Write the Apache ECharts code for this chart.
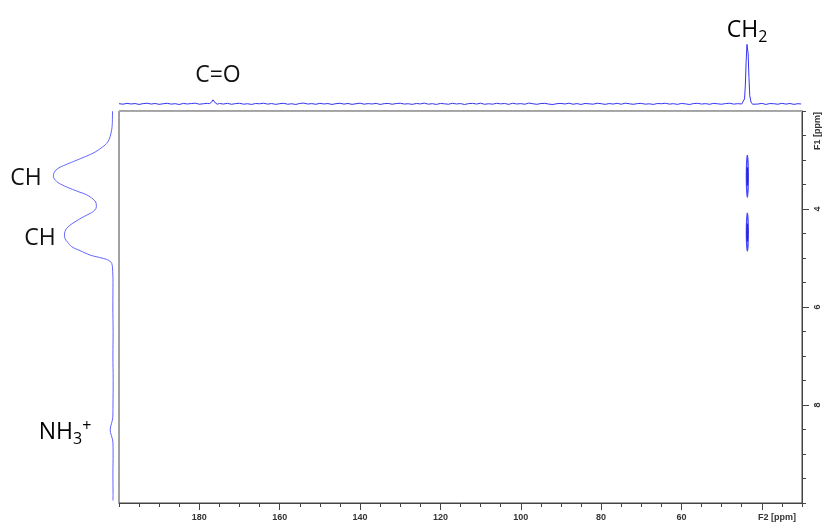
<!DOCTYPE html>
<html>
<head>
<meta charset="utf-8">
<script src="https://cdn.jsdelivr.net/npm/echarts@6/dist/echarts.min.js"></script>
<style>
  html, body { margin: 0; padding: 0; background: #fff; }
  #chart { width: 823px; height: 525px; }
</style>
</head>
<body>
<div id="chart"></div>
<script>
// F2 (13C) projection on top: [ppm, intensity]
const f2Trace = [
  [200, 0.3], [199, -0.5], [198, 0.8], [197, -0.2], [196, 0.5], [195, -0.9], [194, 0.4], [193, 1.0],
  [192, -0.3], [191, 0.6], [190, -0.8], [189, 0.2], [188, 0.9], [187, -0.4], [186, 0.3], [185, -1.0],
  [184, 0.7], [183, -0.2], [182, 0.5], [181, 1.1], [180, -0.6], [179, 0.2], [178, 0.8], [177.5, 0.3],
  [177.0, 2.5], [176.6, 6.5], [176.3, 5.0], [176.0, 1.2], [175.5, -0.5], [175, 0.6], [174, -0.3],
  [173, 0.9], [172, -0.7], [171, 0.4], [170, 1.0], [169, -0.5], [168, 0.2], [167, -0.9], [166, 0.6],
  [165, 0.1], [164, 1.0], [163, -0.4], [162, 0.5], [161, -0.8], [160, 0.3], [159, 0.9], [158, -0.6],
  [157, 0.2], [156, -1.0], [155, 0.7], [154, 1.2], [153, -0.3], [152, 0.4], [151, -0.7], [150, 0.9],
  [149, -0.2], [148, 0.5], [147, -0.9], [146, 0.3], [145, 1.0], [144, -0.4], [143, 0.6], [142, -0.8],
  [141, 0.2], [140, 1.1], [139, -0.5], [138, 0.4], [137, -0.2], [136, 0.8], [135, -0.9], [134, 0.3],
  [133, 0.7], [132, -0.6], [131, 0.5], [130, 1.0], [129, -0.3], [128, 0.2], [127, -0.8], [126, 0.6],
  [125, -0.1], [124, 1.2], [123, -0.5], [122, 0.3], [121, -0.9], [120, 0.7], [119, 0.1], [118, -0.6],
  [117, 0.9], [116, -0.2], [115, 0.5], [114, -1.0], [113, 0.4], [112, 0.8], [111, -0.3], [110, 1.1],
  [109, -0.7], [108, 0.2], [107, -0.5], [106, 0.9], [105, 0.0], [104, 0.6], [103, -0.8], [102, 1.0],
  [101, -0.2], [100, 0.4], [99, -0.6], [98, 1.3], [97, 0.2], [96, -0.7], [95, 0.5], [94, 0.9],
  [93, -0.4], [92, -1.0], [91, 0.3], [90, 0.7], [89, -0.2], [88, 1.1], [87, -0.6], [86, 0.4],
  [85, -0.9], [84, 0.6], [83, 0.1], [82, -0.5], [81, 1.0], [80, 0.3], [79, -0.8], [78, 0.5],
  [77, -0.3], [76, 0.9], [75, -0.6], [74, 1.1], [73, 0.2], [72, -0.7], [71, 0.4], [70, 0.8],
  [69, -0.5], [68, 0.1], [67, -0.9], [66, 0.6], [65, 0.2], [64, 1.0], [63, -0.4], [62, 0.3],
  [61, -0.8], [60, 0.7], [59, 0.0], [58, -1.0], [57, 0.5], [56, 0.9], [55, -0.3], [54, 0.4],
  [53, -0.7], [52, 0.8], [51, 0.1], [50, -0.6], [49, 0.5], [48, 1.0], [47, -0.4], [46, 0.3],
  [45, -0.2], [44.6, 1.0], [44.3, 8], [44.1, 30], [43.9, 68], [43.7, 95], [43.55, 97], [43.4, 80],
  [43.2, 42], [43.0, 13], [42.7, 3], [42.3, -0.6], [42, 0.4], [41, -0.3], [40, 0.8], [39, -0.9],
  [38, 0.5], [37, 0.2], [36, -0.6], [35, 0.9], [34, -0.4], [33, 0.6], [32, -0.8], [31, 0.3], [30.2, -0.2]
];

// F1 (1H) projection on the left: [intensity, ppm]
const f1Trace = [
  [0.2, 2.0], [0.3, 2.12], [0.8, 2.3], [2.7, 2.45], [6, 2.58], [10, 2.66], [20, 2.76], [33, 2.86],
  [50, 2.95], [66, 3.03], [80, 3.1], [92, 3.17], [98.5, 3.25], [100, 3.33], [94.5, 3.44], [85, 3.51],
  [72, 3.58], [57, 3.65], [44, 3.71], [33, 3.8], [28, 3.88], [27.5, 3.95], [30, 4.02], [38, 4.09],
  [49.5, 4.16], [62, 4.25], [72, 4.33], [78, 4.4], [80.5, 4.46], [81.5, 4.53], [80.5, 4.6], [76, 4.68],
  [69, 4.77], [55, 4.85], [38, 4.94], [22, 4.99], [10, 5.03], [4, 5.07], [1.5, 5.11], [0.2, 5.2],
  [-0.6, 5.5], [-0.4, 6.0], [-0.8, 6.5], [-0.5, 7.0], [-0.9, 7.5], [-0.6, 8.0], [-0.3, 8.25],
  [2, 8.38], [4.2, 8.51], [2.2, 8.62], [-0.4, 8.75], [-0.8, 9.0], [-0.5, 9.4], [-0.7, 9.8], [-0.6, 9.95]
];

// 2D cross peaks: [F2 ppm, F1 ppm], closed outlines
const peak1Outer = [[43.6, 2.9], [43.42, 3.05], [43.35, 3.33], [43.42, 3.6], [43.6, 3.76], [43.78, 3.6], [43.85, 3.33], [43.78, 3.05], [43.6, 2.9]];
const peak1Inner = [[43.6, 3.15], [43.52, 3.32], [43.6, 3.52], [43.68, 3.32], [43.6, 3.15]];
const peak2Outer = [[43.6, 4.08], [43.42, 4.22], [43.35, 4.47], [43.42, 4.72], [43.6, 4.86], [43.78, 4.72], [43.85, 4.47], [43.78, 4.22], [43.6, 4.08]];
const peak2Inner = [[43.6, 4.3], [43.52, 4.47], [43.6, 4.66], [43.68, 4.47], [43.6, 4.3]];

const f2MajorTicks = [180, 160, 140, 120, 100, 80, 60, 40];
const f1MajorTicks = [4, 6, 8];

const chart = echarts.init(document.getElementById('chart'));

const tickLabel = {
  color: '#333',
  fontFamily: 'Liberation Sans',
  fontWeight: 'bold',
  fontSize: 9,
};
const axisColor = '#444';
const annot = { fontFamily: 'Open Sans', fontSize: 23, fill: '#111' };

const contour = (data, color, width) => ({
  type: 'line',
  xAxisIndex: 0,
  yAxisIndex: 0,
  data: data,
  smooth: 0.5,
  showSymbol: false,
  silent: true,
  lineStyle: { color: color, width: width },
});

chart.setOption({
  animation: false,
  grid: [
    { left: 119, right: 21, top: 111, bottom: 22, show: true, borderColor: axisColor, borderWidth: 1 },
    { left: 119, right: 21, top: 35, height: 72 },
    { left: 44, width: 71, top: 111, bottom: 22 },
  ],
  xAxis: [
    {
      // main F2 axis, minor ticks every 5 ppm
      type: 'value', gridIndex: 0, min: 30, max: 200, interval: 5, inverse: true, position: 'bottom',
      axisLine: { show: true, lineStyle: { color: axisColor } },
      axisTick: { show: true, length: 4, lineStyle: { color: axisColor } },
      axisLabel: { show: false },
      splitLine: { show: false },
    },
    {
      // major ticks with labels
      type: 'value', gridIndex: 0, min: 30, max: 200, inverse: true, position: 'bottom',
      axisLine: { show: false },
      axisTick: { show: true, length: 7, customValues: f2MajorTicks, lineStyle: { color: axisColor } },
      axisLabel: {
        ...tickLabel, margin: 10, customValues: f2MajorTicks,
        formatter: (v) => (v === 40 ? '' : String(v)),
      },
      splitLine: { show: false },
    },
    {
      type: 'value', gridIndex: 1, min: 30, max: 200, inverse: true, show: false,
    },
    {
      type: 'value', gridIndex: 2, min: -4, max: 116, inverse: true, show: false,
    },
    {
      // lighter top edge of the box
      type: 'value', gridIndex: 0, min: 30, max: 200, inverse: true, position: 'top',
      axisLine: { show: true, lineStyle: { color: '#aaa' } },
      axisTick: { show: false }, axisLabel: { show: false }, splitLine: { show: false },
    },
  ],
  yAxis: [
    {
      type: 'value', gridIndex: 0, min: 2, max: 10, interval: 0.5, inverse: true, position: 'right',
      axisLine: { show: true, lineStyle: { color: axisColor } },
      axisTick: { show: true, length: 4, lineStyle: { color: axisColor } },
      axisLabel: { show: false },
      splitLine: { show: false },
    },
    {
      type: 'value', gridIndex: 0, min: 2, max: 10, inverse: true, position: 'right',
      axisLine: { show: false },
      axisTick: { show: true, length: 7, customValues: f1MajorTicks, lineStyle: { color: axisColor } },
      axisLabel: { ...tickLabel, margin: 11, rotate: 90, customValues: f1MajorTicks },
      splitLine: { show: false },
    },
    {
      type: 'value', gridIndex: 1, min: -5, max: 110, show: false,
    },
    {
      type: 'value', gridIndex: 2, min: 2, max: 10, inverse: true, show: false,
    },
  ],
  series: [
    {
      type: 'line', xAxisIndex: 2, yAxisIndex: 2, data: f2Trace,
      showSymbol: false, silent: true,
      lineStyle: { color: '#3434f0', width: 1 },
    },
    {
      type: 'line', xAxisIndex: 3, yAxisIndex: 3, data: f1Trace,
      smooth: 0.4, showSymbol: false, silent: true,
      lineStyle: { color: '#6262ff', width: 1 },
    },
    contour(peak1Outer, '#4848ff', 1.3),
    contour(peak1Inner, '#1c1ca8', 1),
    contour(peak2Outer, '#4848ff', 1.3),
    contour(peak2Inner, '#1c1ca8', 1),
  ],
  graphic: [
    { type: 'text', x: 218, y: 75, style: { ...annot, text: 'C=O', align: 'center', verticalAlign: 'middle' } },
    {
      type: 'text', x: 747, y: 30,
      style: {
        text: '{a|CH}{b|2}', align: 'center', verticalAlign: 'middle',
        rich: {
          a: { fontFamily: 'Open Sans', fontSize: 23, color: '#111' },
          b: { fontFamily: 'Open Sans', fontSize: 16, color: '#111', padding: [14, 0, 0, 0] },
        },
      },
    },
    { type: 'text', x: 26, y: 178, style: { ...annot, text: 'CH', align: 'center', verticalAlign: 'middle' } },
    { type: 'text', x: 40, y: 238, style: { ...annot, text: 'CH', align: 'center', verticalAlign: 'middle' } },
    {
      type: 'text', x: 65, y: 432,
      style: {
        text: '{a|NH}{b|3}{c|+}', align: 'center', verticalAlign: 'middle',
        rich: {
          a: { fontFamily: 'Open Sans', fontSize: 23, color: '#111' },
          b: { fontFamily: 'Open Sans', fontSize: 16, color: '#111', padding: [14, 0, 0, 0] },
          c: { fontFamily: 'Open Sans', fontSize: 16, color: '#111', padding: [0, 0, 12, 0] },
        },
      },
    },
    {
      type: 'text', x: 777, y: 518,
      style: { fill: '#333', font: 'bold 9px "Liberation Sans"', text: 'F2 [ppm]', align: 'center', verticalAlign: 'middle' },
    },
    {
      type: 'text', x: 818, y: 131, rotation: Math.PI / 2,
      style: { fill: '#333', font: 'bold 9px "Liberation Sans"', text: 'F1 [ppm]', align: 'center', verticalAlign: 'middle' },
    },
  ],
});

window.addEventListener('resize', () => chart.resize());
</script>
</body>
</html>
